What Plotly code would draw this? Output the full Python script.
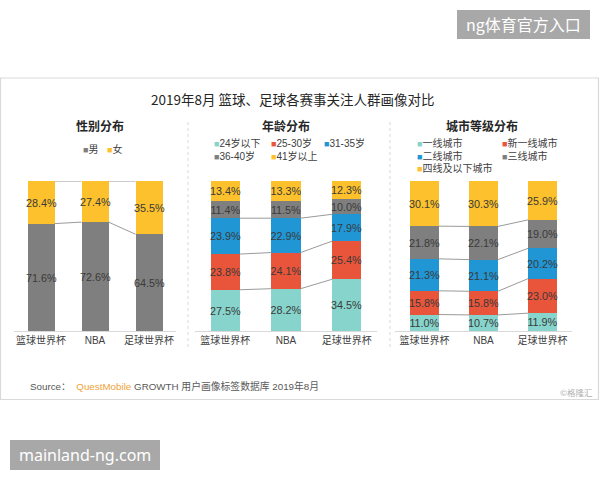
import plotly.graph_objects as go

# ---------------- data ----------------
categories = ["篮球世界杯", "NBA", "足球世界杯"]

gender_names = ["男", "女"]
gender_values = [
    [71.6, 72.6, 64.5],
    [28.4, 27.4, 35.5],
]

age_names = ["24岁以下", "25-30岁", "31-35岁", "36-40岁", "41岁以上"]
age_values = [
    [27.5, 28.2, 34.5],
    [23.8, 24.1, 25.4],
    [23.9, 22.9, 17.9],
    [11.4, 11.5, 10.0],
    [13.4, 13.3, 12.3],
]

city_names = ["一线城市", "新一线城市", "二线城市", "三线城市", "四线及以下城市"]
city_values = [
    [11.0, 10.7, 11.9],
    [15.8, 15.8, 23.0],
    [21.3, 21.1, 20.2],
    [21.8, 22.1, 19.0],
    [30.1, 30.3, 25.9],
]

title_text = "2019年8月 篮球、足球各赛事关注人群画像对比"
panel_titles = ["性别分布", "年龄分布", "城市等级分布"]

# ---------------- style ----------------
W, H = 600, 480
GRAY = "#7f7f7f"
YELLOW = "#fcc12c"
TEAL = "#86d4cc"
RED = "#e8553b"
BLUE = "#2196d4"
gender_colors = [GRAY, YELLOW]
age_colors = [TEAL, RED, BLUE, GRAY, YELLOW]
city_colors = [TEAL, RED, BLUE, GRAY, YELLOW]

FONT = "Liberation Sans, Noto Sans CJK SC, sans-serif"
CJK = "Noto Sans CJK SC, sans-serif"


def px(x):
    return x / W


def py(y):
    return 1 - y / H


panels = [
    dict(names=gender_names, values=gender_values, colors=gender_colors,
         xdom=(14, 176), width=0.5, link=2,
         title_x=100,
         legend=[(81, 149), (105, 149)]),
    dict(names=age_names, values=age_values, colors=age_colors,
         xdom=(195, 377), width=0.48, link=3,
         title_x=286,
         legend=[(212, 143), (269, 143), (322, 143), (212, 156), (269, 156)]),
    dict(names=city_names, values=city_values, colors=city_colors,
         xdom=(395, 572), width=0.49, link=4,
         title_x=482,
         legend=[(415, 143), (500, 143), (415, 156), (500, 156), (415, 168)]),
]

ydom = (py(331), py(181))

fig = go.Figure()
annotations = []
shapes = []

for pi, p in enumerate(panels):
    suffix = "" if pi == 0 else str(pi + 1)
    xa = "x" + suffix
    ya = "y" + suffix
    xpos = list(range(len(categories)))
    for si, (name, vals) in enumerate(zip(p["names"], p["values"])):
        fig.add_trace(go.Bar(
            x=xpos, y=vals, name=name, width=p["width"],
            marker=dict(color=p["colors"][si], line=dict(width=0)),
            text=[f"{v:.1f}%" for v in vals],
            textposition="inside", insidetextanchor="middle",
            textangle=0, constraintext="none",
            textfont=dict(size=10.8, color="#3a3a3a", family=FONT),
            xaxis=xa, yaxis=ya, showlegend=False, hoverinfo="skip",
        ))
    # series connector lines
    cum = [0.0] * len(categories)
    for si in range(len(p["values"])):
        cum = [c + v for c, v in zip(cum, p["values"][si])]
        if si < p["link"]:
            for ci in range(len(categories) - 1):
                fig.add_trace(go.Scatter(
                    x=[ci + p["width"] / 2, ci + 1 - p["width"] / 2],
                    y=[cum[ci], cum[ci + 1]],
                    mode="lines", line=dict(color="#9a9a9a", width=1),
                    xaxis=xa, yaxis=ya, showlegend=False, hoverinfo="skip",
                ))
    fig.layout["xaxis" + suffix] = dict(
        domain=[px(p["xdom"][0]), px(p["xdom"][1])],
        range=[-0.5, len(categories) - 0.5],
        tickvals=xpos, ticktext=categories,
        showline=True, linecolor="#d9d9d9", linewidth=1,
        ticks="", showgrid=False, zeroline=False, fixedrange=True,
        tickfont=dict(size=10, color="#404040", family=FONT),
        anchor=ya,
    )
    fig.layout["yaxis" + suffix] = dict(
        domain=list(ydom), range=[0, 100], visible=False,
        showgrid=False, zeroline=False, anchor=xa, fixedrange=True,
    )
    # panel title
    annotations.append(dict(
        x=px(p["title_x"]), y=py(126), xref="paper", yref="paper",
        text="<b>" + panel_titles[pi] + "</b>", showarrow=False,
        font=dict(size=12, color="#262626", family=CJK),
        xanchor="center", yanchor="middle",
    ))
    # legend entries
    for si, (name, (lx, ly)) in enumerate(zip(p["names"], p["legend"])):
        annotations.append(dict(
            x=px(lx), y=py(ly), xref="paper", yref="paper",
            text=f"<span style='color:{p['colors'][si]};font-size:9px'>■</span>{name}",
            showarrow=False, font=dict(size=10, color="#404040", family=FONT),
            xanchor="left", yanchor="middle",
        ))

# main title
annotations.append(dict(
    x=px(293), y=py(99), xref="paper", yref="paper", text=title_text,
    showarrow=False, font=dict(size=13.5, color="#262626", family=CJK),
    xanchor="center", yanchor="middle",
))

# source line
annotations.append(dict(
    x=px(28), y=py(386), xref="paper", yref="paper",
    text="Source：  <span style='color:#f0a43a'>QuestMobile</span> GROWTH 用户画像标签数据库 2019年8月",
    showarrow=False, font=dict(size=9.8, color="#595959", family=FONT),
    xanchor="left", yanchor="middle",
))
annotations.append(dict(
    x=px(595), y=py(392), xref="paper", yref="paper", text="©格隆汇",
    showarrow=False, font=dict(size=8.5, color="#b0b0b0", family=CJK),
    xanchor="right", yanchor="middle",
))

# overlay badges
annotations.append(dict(
    x=px(523.5), y=py(24.5), xref="paper", yref="paper", text="ng体育官方入口",
    showarrow=False, font=dict(size=16, color="#ffffff", family=CJK),
    xanchor="center", yanchor="middle",
))
annotations.append(dict(
    x=px(85), y=py(455), xref="paper", yref="paper", text="mainland-ng.com",
    showarrow=False, font=dict(size=16, color="#ffffff", family="Noto Sans"),
    xanchor="center", yanchor="middle",
))

# card border
shapes.append(dict(type="rect", xref="paper", yref="paper",
                   x0=px(0.5), x1=px(598.5), y0=py(399.5), y1=py(78),
                   line=dict(color="#d9d9d9", width=1.2), fillcolor="rgba(0,0,0,0)",
                   layer="below"))
# separators
for sx in (188, 390):
    shapes.append(dict(type="line", xref="paper", yref="paper",
                       x0=px(sx), x1=px(sx), y0=py(122), y1=py(350),
                       line=dict(color="#d9d9d9", width=1, dash="dot")))
# badges
shapes.append(dict(type="rect", xref="paper", yref="paper",
                   x0=px(457), x1=px(590), y0=py(39), y1=py(10),
                   line=dict(width=0), fillcolor="#a8a8a8"))
shapes.append(dict(type="rect", xref="paper", yref="paper",
                   x0=px(10), x1=px(160), y0=py(470), y1=py(440),
                   line=dict(width=0), fillcolor="#a8a8a8"))

fig.update_layout(
    width=W, height=H, margin=dict(l=0, r=0, t=0, b=0),
    paper_bgcolor="#ffffff", plot_bgcolor="rgba(0,0,0,0)",
    barmode="stack", bargap=0, showlegend=False,
    font=dict(family=FONT),
    annotations=annotations, shapes=shapes,
)

fig.write_html("out.html")
